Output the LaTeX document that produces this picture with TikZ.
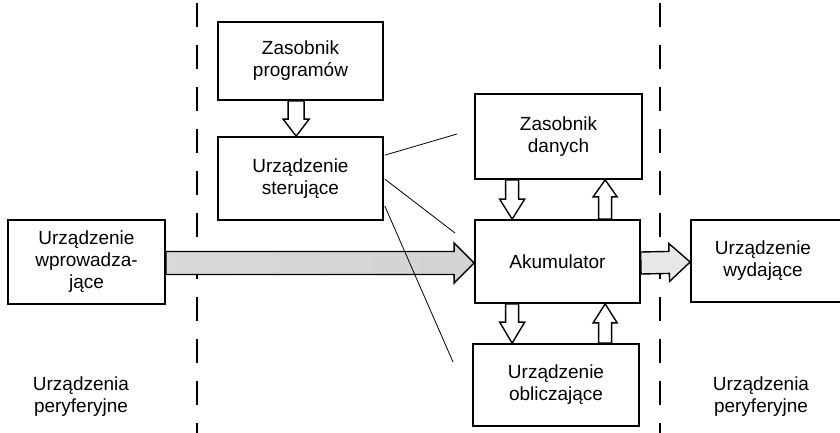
\documentclass[tikz,border=0pt]{standalone}
\usepackage{fontspec}
\setmainfont{Liberation Sans}
\usetikzlibrary{calc}
\newcommand\blockarr[7]{% style, from, to, half shaft, half head, head length
  \path[#1] ($(#2)!#4!90:(#3)$) -- ($(#3)!#6!(#2)!#4!90:(#3)$) -- ($(#3)!#6!(#2)!#5!90:(#3)$)
    -- (#3) -- ($(#3)!#6!(#2)!#5!-90:(#3)$) -- ($(#3)!#6!(#2)!#4!-90:(#3)$) -- ($(#2)!#4!-90:(#3)$) -- cycle;#7}
\tikzset{
  box/.style={draw=black, line width=1.7pt, align=center, inner sep=0pt,
    font=\fontsize{19}{22}\selectfont},
  txt/.style={align=center, font=\fontsize{19}{22}\selectfont},
  hollow/.style={draw=black, line width=1.4pt, fill=white, line join=miter},
  sig/.style={draw=black, line width=0.8pt},
  sep/.style={draw=black, line width=1.1pt, dash pattern=on 24pt off 18pt, dash phase=-3pt},
}
\begin{document}
\begin{tikzpicture}[x=1pt,y=-1pt]
\useasboundingbox (0,0) rectangle (840,433);
\clip (0,0) rectangle (840,433);
\fill[white] (0,0) rectangle (840,433);
% separators
\draw[sep] (197,0) -- (197,433);
\draw[sep] (660,0) -- (660,433);
% boxes
\node[box, minimum width=157pt, minimum height=84pt] (wej) at (86.5,262) {Urządzenie\\wprowadza-\\jące};
\node[box, minimum width=165pt, minimum height=78pt] (zp) at (300.5,61) {Zasobnik\\programów};
\node[box, minimum width=165pt, minimum height=83pt] (ster) at (300.5,178.5) {Urządzenie\\sterujące};
\node[box, minimum width=167pt, minimum height=85pt] (zd) at (558.5,136.5) {Zasobnik\\danych};
\node[box, minimum width=165pt, minimum height=83pt] (ak) at (557.5,261.5) {Akumulator};
\node[box, minimum width=166pt, minimum height=82pt] (obl) at (556,385) {Urządzenie\\obliczające};
\node[box, minimum width=156pt, minimum height=82pt] (wyd) at (769,261) {};
\node[txt] (wydt) at (763,261) {Urządzenie\\wydające};
% peripheral labels
\node[txt] (pl) at (81,397) {Urządzenia\\peryferyjne};
\node[txt] (pr) at (761,397) {Urządzenia\\peryferyjne};
% coordinates for hollow arrows
\coordinate (zpS) at ($(zp.south west)+(79,0)$);
\coordinate (stN) at ($(ster.north west)+(79,0)$);
\coordinate (zdA) at ($(zd.south west)+(38,0)$);
\coordinate (zdB) at ($(zd.south west)+(131,0)$);
\coordinate (akA) at ($(ak.north west)+(38,0)$);
\coordinate (akB) at ($(ak.north west)+(131,0)$);
\coordinate (akC) at ($(ak.south west)+(38,0)$);
\coordinate (akD) at ($(ak.south west)+(131,0)$);
\coordinate (obA) at ($(obl.north west)+(40,0)$);
\coordinate (obB) at ($(obl.north west)+(133,0)$);
\coordinate (wejE) at ($(wej.east)+(0,1)$);
\coordinate (akW) at ($(ak.west)+(0,1.5)$);
\coordinate (akE) at ($(ak.east)+(0,1.5)$);
\coordinate (wydW) at ($(wyd.west)+(0,1)$);
% hollow arrows
\blockarr{hollow}{zpS}{stN}{8pt}{13pt}{17pt}{}
\blockarr{hollow}{zdA}{akA}{6.5pt}{12.5pt}{20pt}{}
\blockarr{hollow}{akB}{zdB}{6.5pt}{12pt}{17pt}{}
\blockarr{hollow}{akC}{obA}{6.5pt}{12.5pt}{21pt}{}
\blockarr{hollow}{obB}{akD}{6.5pt}{12pt}{19pt}{}
% shaded data arrows
\blockarr{draw=black, line width=1.4pt, left color=gray!30, middle color=gray!62, right color=gray!35}{wejE}{akW}{11.5pt}{20pt}{20pt}{}
\blockarr{draw=black, line width=1.4pt, fill=gray!18}{akE}{wydW}{11pt}{19pt}{21pt}{}
% control signal lines
\coordinate (s1) at ($(ster.north east)+(1,19)$);
\coordinate (s2) at ($(ster.north east)+(1,43)$);
\coordinate (s3) at ($(ster.north east)+(1,70)$);
\coordinate (e1) at (457,134);
\coordinate (e2) at (455,233);
\coordinate (e3) at (453,362);
\draw[sig] (s1) -- (e1);
\draw[sig] (s2) -- (e2);
\draw[sig] (s3) -- (e3);
\end{tikzpicture}
\end{document}
